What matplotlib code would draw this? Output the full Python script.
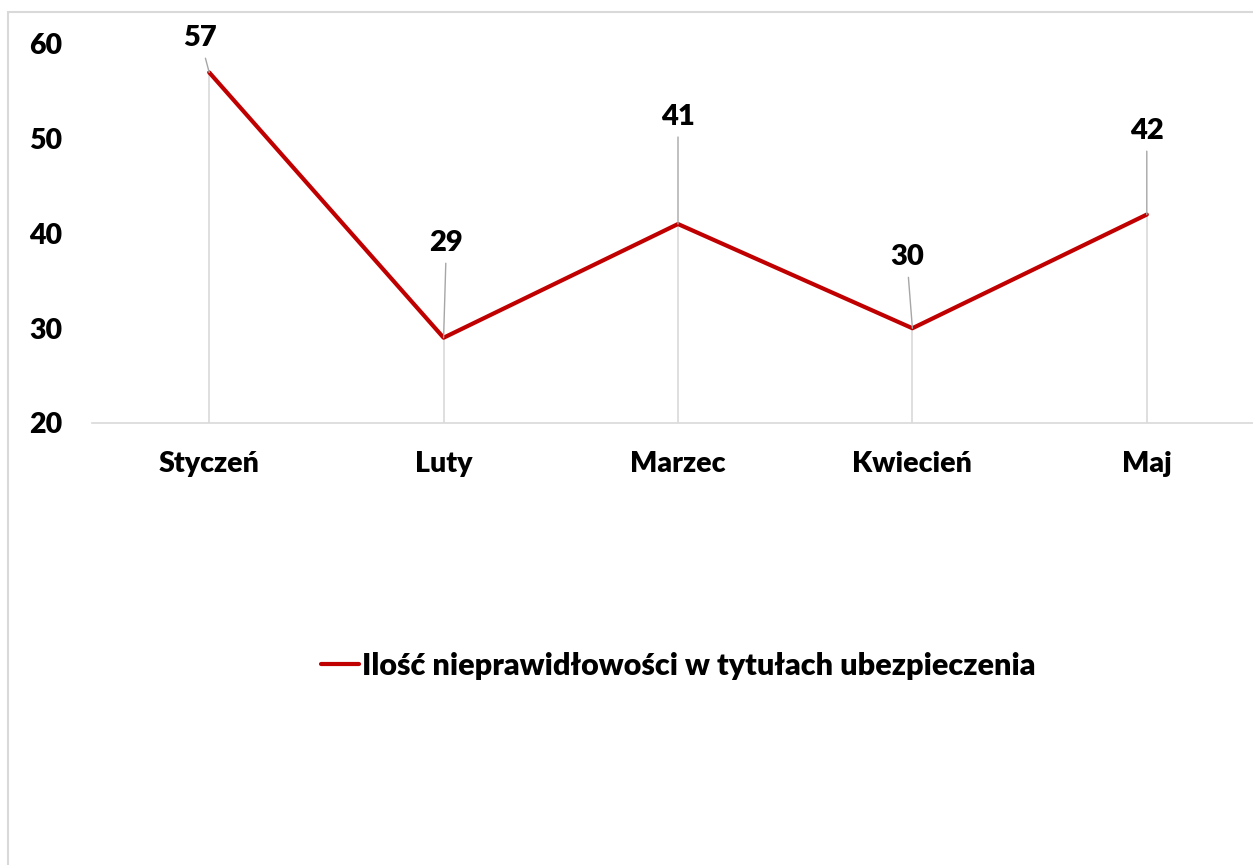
import matplotlib.pyplot as plt
from matplotlib.patches import Rectangle

months = ['Styczeń', 'Luty', 'Marzec', 'Kwiecień', 'Maj']
values = [57, 29, 41, 30, 42]
series_name = 'Ilość nieprawidłowości w tytułach ubezpieczenia'

# label offsets (points) for the data labels, like Excel's dragged labels
label_offsets = [(-6.5, 24.5), (2, 68), (0, 77), (-4, 51), (0, 60)]

plt.rcParams['font.family'] = ['Lato', 'DejaVu Sans']
plt.rcParams['font.weight'] = 'heavy'

fig = plt.figure(figsize=(12.53, 8.65), dpi=100)
W, H = 1253, 865
ax = fig.add_axes([92 / W, 1 - 423 / H, (1264 - 92) / W, (423 - 44) / H])

x = list(range(len(months)))
ax.set_xlim(-0.5, len(months) - 0.5)
ax.set_ylim(20, 60)

# drop lines
ax.vlines(x, 20, values, color='#d9d9d9', lw=1.2, zorder=1)
ax.plot(x, values, color='#c00000', lw=3.0, label=series_name, zorder=3,
        solid_capstyle='round')

for xi, v, (dx, dy) in zip(x, values, label_offsets):
    ax.annotate(str(v), xy=(xi, v), xytext=(dx, dy), textcoords='offset points',
                ha='center', va='center', fontsize=21, fontweight='heavy',
                annotation_clip=False,
                arrowprops=dict(arrowstyle='-', color='#a6a6a6', lw=1.0,
                                shrinkA=3, shrinkB=0))

ax.set_yticks([20, 30, 40, 50, 60])
ax.set_xticks(x)
ax.set_xticklabels(months)
ax.tick_params(axis='both', length=0, labelsize=20.5)
ax.tick_params(axis='x', pad=20)
for lab in ax.get_yticklabels():
    lab.set_horizontalalignment('left')
ax.tick_params(axis='y', pad=45)
for side in ['top', 'right', 'left']:
    ax.spines[side].set_visible(False)
ax.spines['bottom'].set_color('#d9d9d9')
ax.spines['bottom'].set_linewidth(1.2)

leg = fig.legend(loc='center', bbox_to_anchor=(678 / W, 1 - 666 / H),
                 frameon=False, handlelength=1.25, handletextpad=0.1,
                 prop={'weight': 'heavy', 'size': 22})

# chart border (extends past the right and bottom edges)
fig.patches.append(Rectangle((8 / W, -0.1), 1.1, 1.1 - 12 / H,
                             transform=fig.transFigure, fill=False,
                             edgecolor='#d9d9d9', lw=1.5))

fig.savefig('out.png', dpi=100)
